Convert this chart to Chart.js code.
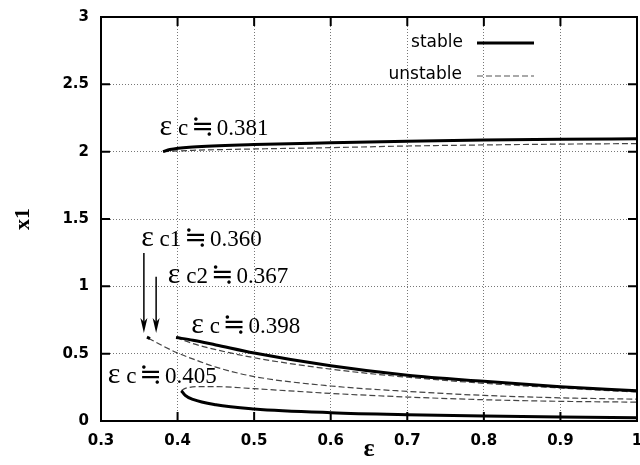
<!DOCTYPE html>
<html>
<head>
<meta charset="utf-8">
<script src="https://cdn.jsdelivr.net/npm/chart.js@4/dist/chart.umd.min.js"></script>
<style>
  html, body { margin: 0; padding: 0; background: #fff; }
</style>
</head>
<body>
<canvas id="myChart" width="640" height="465"></canvas>
<script>
/* DATA */

const xTickLabels = ['0.3', '0.4', '0.5', '0.6', '0.7', '0.8', '0.9', '1']
const yTickLabels = ['0', '0.5', '1', '1.5', '2', '2.5', '3']

// upper branch, fold at eps = 0.381
const upperStableEps = [0.381, 0.39, 0.42, 0.5, 0.6, 0.7, 0.8, 0.9, 1.0]
const upperStableX1 = [2.0, 2.016, 2.035, 2.053, 2.066, 2.077, 2.086, 2.092, 2.096]
const upperUnstableEps = [0.381, 0.42, 0.5, 0.6, 0.7, 0.8, 0.9, 1.0]
const upperUnstableX1 = [2.0, 2.01, 2.02, 2.03, 2.042, 2.05, 2.056, 2.06]

// middle branch, fold at eps = 0.398
const midStableEps = [0.398, 0.42, 0.45, 0.5, 0.6, 0.7, 0.8, 0.9, 1.0]
const midStableX1 = [0.62, 0.6, 0.565, 0.505, 0.41, 0.34, 0.295, 0.255, 0.225]
const midUnstableEps = [0.398, 0.42, 0.45, 0.5, 0.6, 0.7, 0.8, 0.9, 1.0]
const midUnstableX1 = [0.62, 0.575, 0.53, 0.47, 0.385, 0.325, 0.28, 0.245, 0.215]

// short piece between eps c1 = 0.360 and eps c2 = 0.367
const tinyStableEps = [0.36, 0.364]
const tinyStableX1 = [0.622, 0.612]
const tinyUnstableEps = [0.362, 0.38, 0.4, 0.425, 0.45, 0.5, 0.6, 0.7, 0.8, 0.9, 1.0]
const tinyUnstableX1 = [0.615, 0.56, 0.505, 0.45, 0.4, 0.33, 0.26, 0.22, 0.19, 0.172, 0.162]

// lower branch, fold at eps = 0.405
const lowStableEps = [0.405, 0.41, 0.42, 0.45, 0.5, 0.6, 0.7, 0.8, 0.9, 1.0]
const lowStableX1 = [0.225, 0.19, 0.16, 0.12, 0.09, 0.062, 0.047, 0.037, 0.03, 0.025]
const lowUnstableEps = [0.405, 0.41, 0.43, 0.45, 0.5, 0.6, 0.7, 0.8, 0.9, 1.0]
const lowUnstableX1 = [0.225, 0.242, 0.255, 0.255, 0.24, 0.205, 0.178, 0.158, 0.146, 0.14]

// text notes and arrows, placed in data units
const notes = [
  { text: 'ε c≒0.381', eps: 0.3765, x1: 2.185 },
  { text: 'ε c1≒0.360', eps: 0.3525, x1: 1.359 },
  { text: 'ε c2≒0.367', eps: 0.3873, x1: 1.084 },
  { text: 'ε c≒0.398', eps: 0.4179, x1: 0.713 },
  { text: 'ε c≒0.405', eps: 0.3089, x1: 0.341 }
]
const arrows = [
  { eps: 0.356, from: 1.247, to: 0.653 },
  { eps: 0.372, from: 1.071, to: 0.653 }
]

/* CHART */

const pts = (xs, ys) => xs.map((x, i) => ({ x: x, y: ys[i] }))

const solid = { borderColor: '#000', borderWidth: 3, borderDash: [] }
const dashed = { borderColor: '#444', borderWidth: 1.2, borderDash: [6, 3] }

const curve = (data, style) => Object.assign({
  data: data,
  showLine: true,
  pointRadius: 0,
  tension: 0.4,
  cubicInterpolationMode: 'monotone',
  fill: false
}, style)

// pick a font per character so the greek letter and the ≒ sign look like the original
const charFont = ch => {
  if (ch === 'ε') return '30px "Liberation Serif"'
  if (ch === '≒') return '27px "DejaVu Serif"'
  return '23px "Liberation Serif"'
}

const drawNote = (ctx, text, x, y) => {
  let cx = x
  for (const ch of text) {
    const pad = ch === '≒' ? 3 : 0
    ctx.font = charFont(ch)
    ctx.fillText(ch, cx + pad, y)
    cx += ctx.measureText(ch).width + 2 * pad
  }
}

const frame = {
  id: 'frame',
  afterDatasetsDraw(chart) {
    const { ctx, chartArea: a, scales: { x, y } } = chart
    ctx.save()

    // inward ticks on all four sides
    ctx.strokeStyle = '#000'
    ctx.lineWidth = 2
    ctx.beginPath()
    x.ticks.forEach(t => {
      const px = x.getPixelForValue(t.value)
      ctx.moveTo(px, a.bottom); ctx.lineTo(px, a.bottom - 9)
      ctx.moveTo(px, a.top); ctx.lineTo(px, a.top + 9)
    })
    y.ticks.forEach(t => {
      const py = y.getPixelForValue(t.value)
      ctx.moveTo(a.left, py); ctx.lineTo(a.left + 9, py)
      ctx.moveTo(a.right, py); ctx.lineTo(a.right - 9, py)
    })
    ctx.stroke()
    ctx.strokeRect(a.left, a.top, a.width, a.height)

    // legend, text first then line
    ctx.font = '17px "DejaVu Sans"'
    ctx.fillStyle = '#000'
    ctx.textAlign = 'right'
    ctx.textBaseline = 'middle'
    const lx = a.right - 182, ly = a.top + 26
    ctx.fillText('stable', lx + 8, ly)
    ctx.fillText('unstable', lx + 7, ly + 32)
    ctx.beginPath()
    ctx.lineWidth = 3
    ctx.moveTo(lx + 22, ly); ctx.lineTo(lx + 79, ly)
    ctx.stroke()
    ctx.beginPath()
    ctx.lineWidth = 1.2
    ctx.strokeStyle = '#555'
    ctx.setLineDash([6, 3])
    ctx.moveTo(lx + 22, ly + 33); ctx.lineTo(lx + 79, ly + 33)
    ctx.stroke()
    ctx.setLineDash([])

    // notes
    ctx.textAlign = 'left'
    ctx.textBaseline = 'alphabetic'
    notes.forEach(n => {
      drawNote(ctx, n.text, x.getPixelForValue(n.eps), y.getPixelForValue(n.x1) + 8)
    })

    // arrows
    ctx.strokeStyle = '#000'
    ctx.lineWidth = 1.5
    arrows.forEach(ar => {
      const px = x.getPixelForValue(ar.eps)
      const y0 = y.getPixelForValue(ar.from)
      const y1 = y.getPixelForValue(ar.to)
      ctx.beginPath()
      ctx.moveTo(px, y0); ctx.lineTo(px, y1 - 6)
      ctx.stroke()
      ctx.beginPath()
      ctx.moveTo(px, y1)
      ctx.lineTo(px - 3.5, y1 - 15)
      ctx.lineTo(px, y1 - 11)
      ctx.lineTo(px + 3.5, y1 - 15)
      ctx.closePath()
      ctx.fill()
    })
    ctx.restore()
  }
}

const ctx = document.getElementById('myChart').getContext('2d')
const myChart = new Chart(ctx, {
  type: 'scatter',
  data: {
    datasets: [
      curve(pts(upperStableEps, upperStableX1), solid),
      curve(pts(upperUnstableEps, upperUnstableX1), dashed),
      curve(pts(midStableEps, midStableX1), solid),
      curve(pts(midUnstableEps, midUnstableX1), dashed),
      curve(pts(tinyStableEps, tinyStableX1), solid),
      curve(pts(tinyUnstableEps, tinyUnstableX1), dashed),
      curve(pts(lowStableEps, lowStableX1), solid),
      curve(pts(lowUnstableEps, lowUnstableX1), dashed)
    ]
  },
  options: {
    responsive: false,
    animation: false,
    layout: { padding: { top: 17, right: 3, left: 0, bottom: 0 } },
    plugins: {
      legend: { display: false },
      tooltip: { enabled: false }
    },
    scales: {
      x: {
        type: 'linear',
        min: 0.3,
        max: 1,
        ticks: {
          stepSize: 0.1,
          padding: 11,
          color: '#000',
          font: { family: 'DejaVu Sans', size: 15, weight: 'bold' },
          callback: (v, i) => xTickLabels[i]
        },
        grid: { color: '#777', lineWidth: 1, drawTicks: false },
        border: { display: false, dash: [1, 2] },
        title: {
          display: true,
          text: 'ε',
          color: '#000',
          font: { family: 'Liberation Serif', size: 26, weight: 'bold' },
          padding: { top: 0, bottom: 0 }
        },
        afterFit: s => { s.height = 44; s.paddingLeft = 0; s.paddingRight = 0 }
      },
      y: {
        min: 0,
        max: 3,
        ticks: {
          stepSize: 0.5,
          padding: 12,
          color: '#000',
          font: { family: 'DejaVu Sans', size: 15, weight: 'bold' },
          callback: (v, i) => yTickLabels[i]
        },
        grid: { color: '#777', lineWidth: 1, drawTicks: false },
        border: { display: false, dash: [1, 2] },
        title: {
          display: true,
          text: 'x1',
          color: '#000',
          font: { family: 'Liberation Serif', size: 22, weight: 'bold' },
          padding: { top: 10, bottom: 0 }
        },
        afterFit: s => { s.width = 101; s.paddingTop = 0; s.paddingBottom = 0 }
      }
    }
  },
  plugins: [frame]
})
</script>
</body>
</html>
